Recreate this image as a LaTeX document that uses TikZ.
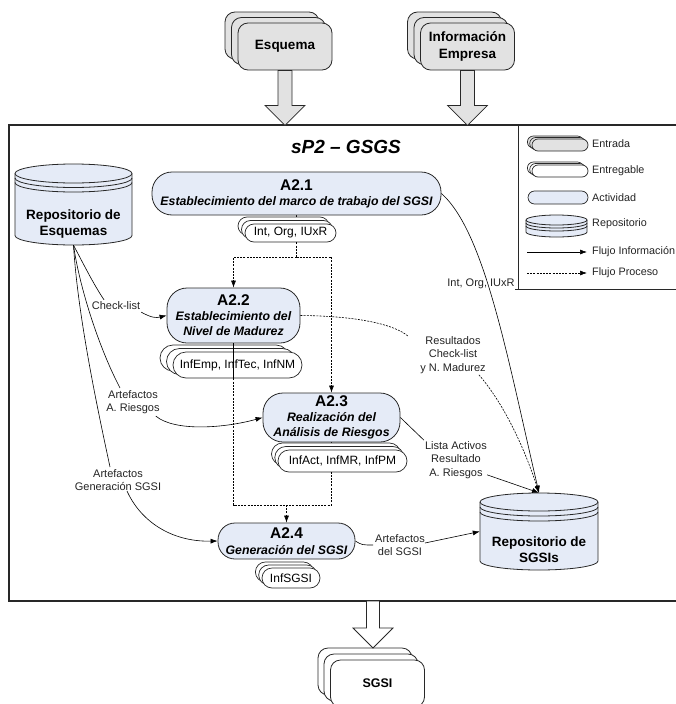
\documentclass[tikz,border=0pt]{standalone}
\usepackage{fontspec}
\setmainfont{Liberation Sans}
\usetikzlibrary{shadows,arrows.meta,calc}
\pgfdeclarelayer{background}
\pgfsetlayers{background,main}
\definecolor{actfill}{RGB}{229,235,247}
\definecolor{infill}{RGB}{226,226,226}
\definecolor{edge}{RGB}{40,40,40}
\definecolor{lbltext}{RGB}{35,35,35}

\newcommand\repocyl[6]{% cx, top, bottom, rx, ry, gap
  \path[cylpath] (#1-#4,#2+#5) -- (#1-#4,#3-#5)
     arc[start angle=180,end angle=360,x radius=#4pt,y radius=#5pt]
     -- (#1+#4,#2+#5)
     arc[start angle=0,end angle=180,x radius=#4pt,y radius=#5pt] -- cycle;
  \draw[cylline] (#1-#4,#2+#5) arc[start angle=180,end angle=360,x radius=#4pt,y radius=#5pt];
  \draw[cylline] (#1-#4,#2+#5+#6) arc[start angle=180,end angle=360,x radius=#4pt,y radius=#5pt];
  \draw[cylline] (#1-#4,#2+#5+2*#6) arc[start angle=180,end angle=360,x radius=#4pt,y radius=#5pt];
}

\tikzset{
  cylpath/.style={draw=edge, fill=actfill, line width=0.8pt},
  cylline/.style={draw=edge, line width=0.8pt},
  inbox/.style={draw=edge, fill=infill, line width=0.8pt, rounded corners=10pt,
    minimum width=94pt, minimum height=47pt, inner sep=0pt, align=center,
    font=\fontsize{13.5}{17}\selectfont\bfseries},
  inshadow/.style={
    copy shadow={shadow xshift=-13pt, shadow yshift=11pt, draw=edge, fill=infill, line width=0.8pt},
    copy shadow={shadow xshift=-6.5pt, shadow yshift=5.5pt, draw=edge, fill=infill, line width=0.8pt}},
  act/.style={draw=edge, fill=actfill, line width=0.8pt, inner sep=0pt, align=center,
    font=\fontsize{12.3}{15}\selectfont\bfseries\itshape},
  deliv/.style={draw=edge, fill=white, line width=0.7pt, inner sep=0pt,
    font=\fontsize{12}{14}\selectfont},
  lbl/.style={inner sep=2pt, align=center, font=\fontsize{11}{13.5}\selectfont, text=lbltext},
  info/.style={draw=black, line width=0.6pt, -{Latex[length=7pt,width=5pt]}},
  infoline/.style={draw=black, line width=0.6pt},
  proc/.style={draw=black, line width=0.6pt, dash pattern=on 2pt off 1.2pt, -{Latex[length=7pt,width=5pt]}},
  procline/.style={draw=black, line width=0.6pt, dash pattern=on 2pt off 1.2pt},
  blockarrow/.style={draw=edge, fill=infill, line width=0.8pt},
  legtext/.style={font=\fontsize{10.8}{12}\selectfont, anchor=west, inner sep=0pt, text=lbltext},
  boldtext/.style={inner sep=0pt, align=center, font=\fontsize{13.5}{16.5}\selectfont\bfseries},
}

\begin{document}
\begin{tikzpicture}[x=1pt,y=-1pt]
\useasboundingbox (0,0) rectangle (675,704);

% ---------- frame and legend ----------
\draw[draw=edge, line width=1.1pt] (9,125) rectangle (690,601);
\coordinate (legtl) at (518,125);
\coordinate (legbl) at (518,289);
\draw[draw=edge, line width=0.9pt] (legtl) -- (legbl);
\draw[draw=edge, line width=0.9pt] (515,289) -- (690,289);

\node[inner sep=0pt, font=\fontsize{19}{20}\selectfont\bfseries\itshape] (title) at (346,147) {sP2 – GSGS};

% ---------- inputs ----------
\node[inbox, inshadow] (esq) at (285,46.5) {Esquema};
\node[inbox, inshadow] (info) at (467.5,46.5) {Información\\Empresa};
\node[inbox, copy shadow={shadow xshift=-12.5pt, shadow yshift=12pt, draw=edge, fill=white, line width=0.8pt},
  copy shadow={shadow xshift=-6.5pt, shadow yshift=6pt, draw=edge, fill=white, line width=0.8pt},
  fill=white, font=\fontsize{12.5}{15}\selectfont\bfseries] (sgsi) at (377.5,683.5) {SGSI};

\draw[blockarrow] (esq.south) ++(-7,0) -- ++(0,35) -- ++(-13,0) -- ++(20,20) -- ++(20,-20) -- ++(-13,0) -- ++(0,-35) -- cycle;
\draw[blockarrow] (info.south) ++(-7,0) -- ++(0,35) -- ++(-13,0) -- ++(20,20) -- ++(20,-20) -- ++(-13,0) -- ++(0,-35) -- cycle;
\coordinate (mainbot) at (373,601);
\draw[blockarrow, fill=white] (mainbot) ++(-6.5,0) -- ++(0,27) -- ++(-13.5,0) -- ++(20,20) -- ++(20,-20) -- ++(-13.5,0) -- ++(0,-27) -- cycle;

% ---------- repositories ----------
\repocyl{73.5}{164}{245}{58.5}{9.5}{4.5}
\node[minimum width=117pt, minimum height=81pt, inner sep=0pt] (repesq) at (73.5,204.5) {};
\node[boldtext] (repesqt) at (73.5,224) {Repositorio de\\Esquemas};

\repocyl{539}{493}{570}{59}{9}{5}
\node[minimum width=118pt, minimum height=77pt, inner sep=0pt] (repsgsi) at (539,531.5) {};
\node[boldtext] (repsgsit) at (539,549.5) {Repositorio de\\SGSIs};

% ---------- activities ----------
\node[act, rounded corners=20pt, minimum width=289pt, minimum height=43pt] (a21) at (296.5,193.5)
  {{\fontsize{15.5}{16}\selectfont\upshape A2.1}\\Establecimiento del marco de trabajo del SGSI};
\node[act, rounded corners=20pt, minimum width=133pt, minimum height=55pt] (a22) at (233.5,315.5)
  {{\fontsize{15.5}{16}\selectfont\upshape A2.2}\\Establecimiento del\\Nivel de Madurez};
\node[act, rounded corners=20pt, minimum width=137pt, minimum height=49pt] (a23) at (331.5,417.5)
  {{\fontsize{15.5}{16}\selectfont\upshape A2.3}\\Realización del\\Análisis de Riesgos};
\node[act, rounded corners=17pt, minimum width=137pt, minimum height=36pt] (a24) at (286.5,541)
  {{\fontsize{15.5}{16}\selectfont\upshape A2.4}\\[1pt]Generación del SGSI};

% ---------- deliverables ----------
\node[deliv, rounded corners=9pt, minimum width=91pt, minimum height=18pt,
  copy shadow={shadow xshift=-7pt, shadow yshift=7pt, draw=edge, fill=white, line width=0.7pt},
  copy shadow={shadow xshift=-3.5pt, shadow yshift=3.5pt, draw=edge, fill=white, line width=0.7pt}]
  (d1) at (290.5,233) {Int, Org, IUxR};
\node[deliv, rounded corners=13pt, minimum width=129pt, minimum height=26pt,
  copy shadow={shadow xshift=-13pt, shadow yshift=7pt, draw=edge, fill=white, line width=0.7pt},
  copy shadow={shadow xshift=-6.5pt, shadow yshift=3.5pt, draw=edge, fill=white, line width=0.7pt}]
  (d2) at (237.5,365) {InfEmp, InfTec, InfNM};
\node[deliv, rounded corners=11pt, minimum width=129pt, minimum height=22pt,
  copy shadow={shadow xshift=-6.5pt, shadow yshift=7pt, draw=edge, fill=white, line width=0.7pt},
  copy shadow={shadow xshift=-3.2pt, shadow yshift=3.5pt, draw=edge, fill=white, line width=0.7pt}]
  (d3) at (342.5,461) {InfAct, InfMR, InfPM};
\node[deliv, rounded corners=10pt, minimum width=58pt, minimum height=20pt,
  copy shadow={shadow xshift=-6.6pt, shadow yshift=6pt, draw=edge, fill=white, line width=0.7pt},
  copy shadow={shadow xshift=-3.3pt, shadow yshift=3pt, draw=edge, fill=white, line width=0.7pt}]
  (d4) at (291,578) {InfSGSI};

% ---------- process flow (dashed) ----------
\begin{pgfonlayer}{background}
  \draw[infoline] (a21.south) -- (a21.south |- d1.center);
  \draw[infoline] (a23.south) -- (a23.south |- d3.center);
\end{pgfonlayer}
\coordinate (j1) at (296.5,257);
\coordinate (j2) at (286.5,505);
\draw[procline] (a21.south |- d1.south) -- (j1);
\draw[proc] (j1) -- (a22.north |- j1) -- (a22.north);
\draw[proc] (j1) -- (a23.north |- j1) -- (a23.north);
\draw[infoline] (a22.south) -- (a22.south |- d2.south);
\draw[procline] (a22.south |- d2.south) -- (a22.south |- j2) -- (a23.south |- j2) -- (a23.south |- d3.south);
\draw[proc] (j2) -- (a24.north);

% ---------- labels ----------
\node[lbl] (cl) at (116,306) {Check-list};
\node[lbl] (ar) at (133,402) {Artefactos\\A. Riesgos};
\node[lbl] (ag) at (118,480) {Artefactos\\Generación SGSI};
\node[lbl] (rc) at (453,355) {Resultados\\Check-list\\y N. Madurez};
\node[lbl] (la) at (456,460) {Lista Activos\\Resultado\\A. Riesgos};
\node[lbl] (as) at (400,545) {Artefactos\\del SGSI};
\node[lbl, inner sep=1pt] (io) at (481,284) {Int, Org, IUxR};

% ---------- information flows ----------
\draw[info] (a21.east) .. controls (485,232) and (508,360) .. (repsgsi.north);

\draw[procline] (a22.east) .. controls (360,316) and (395,325) .. ($(rc.north west)+(-10,2)$);
\draw[proc] ($(rc.south east)+(-9,-1)$) .. controls (505,405) and (525,450) .. (repsgsi.north);

\draw[infoline] (a23.east) -- ($(la.north west)+(1,1)$);
\draw[info] ($(la.south east)+(-2,-6)$) -- (repsgsi.north);

\draw[infoline] (a24.east) .. controls (362,545) .. (as.west);
\draw[info] ($(as.east)+(-2,-2)$) -- (repsgsi.west);

\draw[infoline] (repesq.south) .. controls (84,265) and (94,285) .. ($(cl.north)+(-12,0)$);
\draw[info] ($(cl.south east)+(-1,0)$) .. controls (152,318) and (156,318) .. (a22.west);

\draw[infoline] (repesq.south) .. controls (80,290) and (100,350) .. ($(ar.north)+(-13,0)$);
\draw[info] ($(ar.south east)+(-6,0)$) .. controls (175,432) and (225,428) .. (a23.west);

\draw[infoline] (repesq.south) .. controls (78,320) and (100,420) .. ($(ag.north)+(-8,0)$);
\draw[info] ($(ag.south)+(9,-2)$) .. controls (140,520) and (170,542) .. (a24.west);

% ---------- legend ----------
\node[draw=edge, fill=infill, line width=0.7pt, rounded corners=6pt, minimum width=56pt, minimum height=12pt, inner sep=0pt,
  copy shadow={shadow xshift=-4.6pt, shadow yshift=3pt, draw=edge, fill=infill, line width=0.7pt},
  copy shadow={shadow xshift=-2.3pt, shadow yshift=1.5pt, draw=edge, fill=infill, line width=0.7pt}]
  (legin) at (560,145) {};
\node[legtext] (legint) at (592,144) {Entrada};
\node[draw=edge, fill=white, line width=0.7pt, rounded corners=6pt, minimum width=56pt, minimum height=12pt, inner sep=0pt,
  copy shadow={shadow xshift=-4.6pt, shadow yshift=3pt, draw=edge, fill=white, line width=0.7pt},
  copy shadow={shadow xshift=-2.3pt, shadow yshift=1.5pt, draw=edge, fill=white, line width=0.7pt}]
  (legdel) at (560,171) {};
\node[legtext] (legdelt) at (592,171) {Entregable};
\node[draw=edge, fill=actfill, line width=0.7pt, rounded corners=6.5pt, minimum width=60pt, minimum height=13pt, inner sep=0pt]
  (legact) at (558,197.5) {};
\node[legtext] (legactt) at (592,198) {Actividad};
\repocyl{556.5}{215}{237}{30.5}{5}{3}
\node[minimum width=61pt, minimum height=22pt, inner sep=0pt] (legrep) at (556.5,226) {};
\node[legtext] (legrept) at (592,224) {Repositorio};
\coordinate (lf1a) at (527,252);
\coordinate (lf1b) at (587,252);
\draw[info] (lf1a) -- (lf1b);
\node[legtext] (legfi) at (592,252) {Flujo Información};
\coordinate (lf2a) at (527,273);
\coordinate (lf2b) at (587,273);
\draw[proc] (lf2a) -- (lf2b);
\node[legtext] (legfp) at (592,273) {Flujo Proceso};
\end{tikzpicture}
\end{document}
